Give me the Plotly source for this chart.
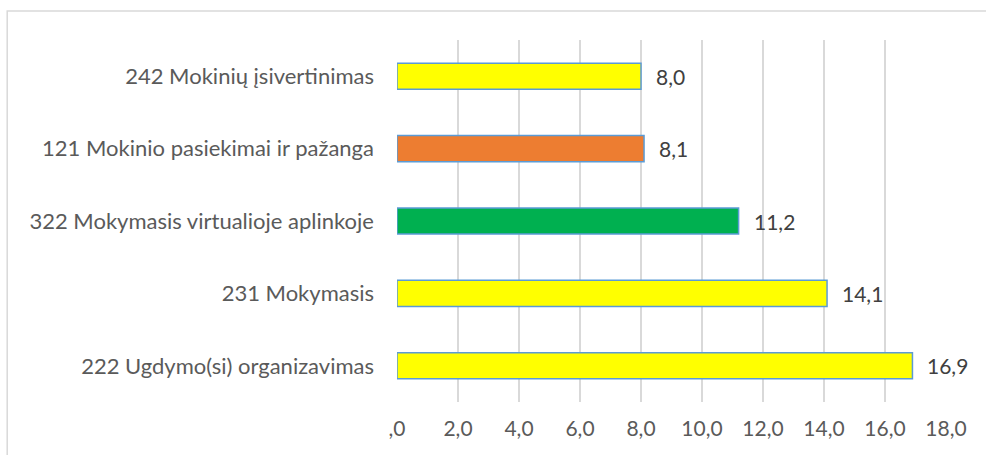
import plotly.graph_objects as go

categories = [
    "222 Ugdymo(si) organizavimas",
    "231 Mokymasis",
    "322 Mokymasis virtualioje aplinkoje",
    "121 Mokinio pasiekimai ir pažanga",
    "242 Mokinių įsivertinimas",
]
values = [16.9, 14.1, 11.2, 8.1, 8.0]
bar_colors = ["#FFFF00", "#FFFF00", "#00B050", "#ED7D31", "#FFFF00"]
tick_vals = [0, 2, 4, 6, 8, 10, 12, 14, 16, 18]
tick_text = [",0", "2,0", "4,0", "6,0", "8,0", "10,0", "12,0", "14,0", "16,0", "18,0"]

labels = [f"{v:.1f}".replace(".", ",") for v in values]

FONT = "Lato, 'Open Sans', sans-serif"
FS = 21

fig = go.Figure(
    go.Bar(
        x=values,
        y=categories,
        orientation="h",
        marker=dict(color=bar_colors, line=dict(color="#5B9BD5", width=1.5)),
        width=0.36,
        hoverinfo="skip",
    )
)

annotations = [
    dict(
        x=v,
        y=c,
        xref="x",
        yref="y",
        text=t,
        showarrow=False,
        xanchor="left",
        xshift=13,
        font=dict(size=FS, color="#404040", family=FONT),
    )
    for v, c, t in zip(values, categories, labels)
]

fig.update_layout(
    width=986,
    height=455,
    margin=dict(l=397, r=40, t=40, b=53),
    paper_bgcolor="white",
    plot_bgcolor="white",
    font=dict(family=FONT, size=FS, color="#5a5a5a"),
    showlegend=False,
    annotations=annotations,
    xaxis=dict(
        range=[0, 18],
        tickvals=tick_vals,
        ticktext=tick_text,
        showgrid=True,
        gridcolor="#D9D9D9",
        gridwidth=1.5,
        zeroline=False,
        showline=False,
        ticks="",
        ticklabelstandoff=12,
        tickfont=dict(size=FS, color="#5a5a5a"),
        fixedrange=True,
    ),
    yaxis=dict(
        categoryorder="array",
        categoryarray=categories,
        showgrid=False,
        zeroline=False,
        showline=False,
        ticks="",
        ticklabelstandoff=22,
        tickfont=dict(size=22, color="#5a5a5a"),
        automargin=False,
        fixedrange=True,
    ),
    shapes=[
        dict(
            type="rect",
            xref="paper",
            yref="paper",
            x0=-0.71,
            x1=1.2,
            y0=-0.3,
            y1=1.080,
            line=dict(color="#D9D9D9", width=1.5),
            fillcolor="rgba(0,0,0,0)",
            layer="below",
        )
    ],
)

fig.write_html(
    "out.html",
    config={"displayModeBar": False, "staticPlot": True},
    post_script="document.body.style.margin='0';document.body.style.overflow='hidden';",
)
